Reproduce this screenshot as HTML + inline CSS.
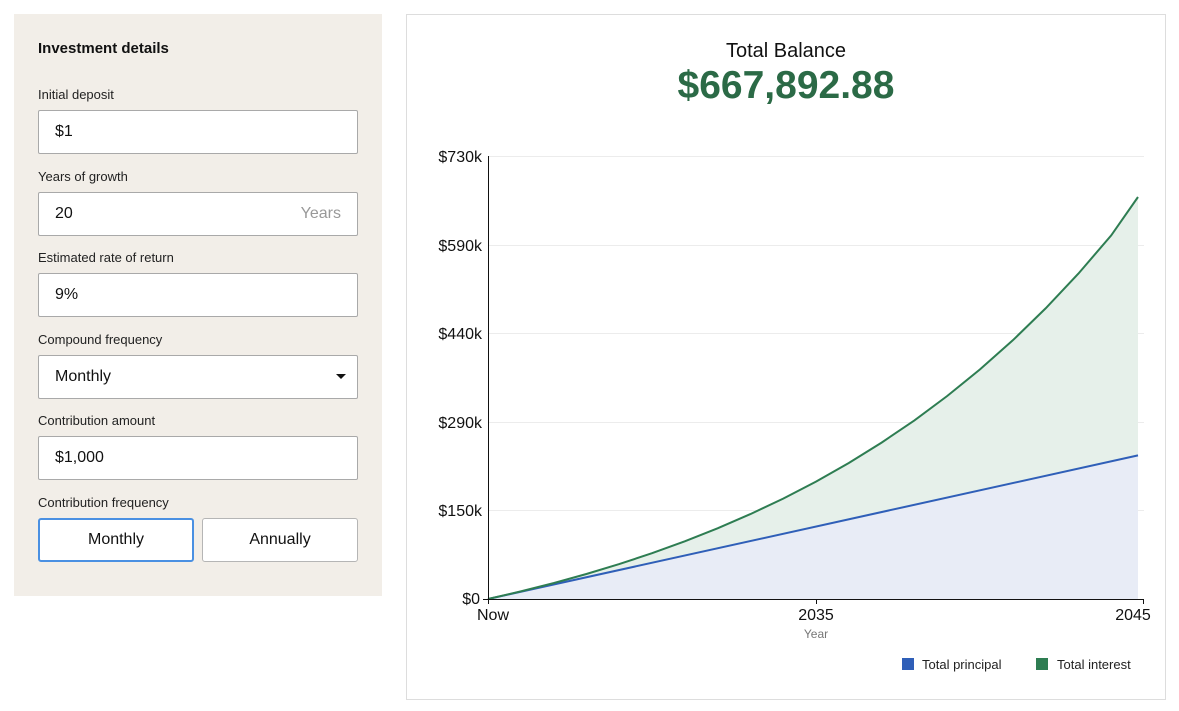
<!DOCTYPE html>
<html><head><style>
body{margin:0;width:1179px;height:711px;background:#fff;font-family:"Liberation Sans",sans-serif;position:relative;overflow:hidden;color:#111}
.a{position:absolute}
.panel{left:14px;top:14px;width:368px;height:582px;background:#f2eee8}
.lbl{left:38px;font-size:13px;color:#222}
.inp{left:38px;width:318px;height:42px;background:#fff;border:1px solid #a9a9a9;border-radius:2px;font-size:16px;line-height:42px;box-sizing:content-box}
.inp span{margin-left:16px}
.btn{top:518px;height:42px;width:154px;background:#fff;border:1px solid #b5b5b5;border-radius:3px;font-size:16px;text-align:center;line-height:42px}
</style></head><body>
<div class="a panel"></div>
<div class="a" style="left:38px;top:40px;font-size:15px;font-weight:bold">Investment details</div>
<div class="a lbl" style="top:87px">Initial deposit</div>
<div class="a inp" style="top:110px"><span>$1</span></div>
<div class="a lbl" style="top:169px">Years of growth</div>
<div class="a inp" style="top:192px"><span>20</span><span style="position:absolute;right:16px;color:#999">Years</span></div>
<div class="a lbl" style="top:250px">Estimated rate of return</div>
<div class="a inp" style="top:273px"><span>9%</span></div>
<div class="a lbl" style="top:332px">Compound frequency</div>
<div class="a inp" style="top:355px"><span>Monthly</span><span style="position:absolute;right:11px;top:18px;width:0;height:0;border-left:5px solid transparent;border-right:5px solid transparent;border-top:5px solid #111"></span></div>
<div class="a lbl" style="top:413px">Contribution amount</div>
<div class="a inp" style="top:436px"><span>$1,000</span></div>
<div class="a lbl" style="top:495px">Contribution frequency</div>
<div class="a btn" style="left:38px;border:2px solid #4a90e2;height:40px;line-height:40px;width:152px">Monthly</div>
<div class="a btn" style="left:202px">Annually</div>

<div class="a" style="left:406px;top:14px;width:758px;height:684px;border:1px solid #ddd"></div>
<div class="a" style="left:406px;width:760px;top:40px;text-align:center;font-size:20px">Total Balance</div>
<div class="a" style="left:406px;width:760px;top:64px;text-align:center;font-size:39px;font-weight:bold;color:#2b6a46">$667,892.88</div>

<svg class="a" style="left:0;top:0" width="1179" height="711">
<g stroke="#ececec" stroke-width="1">
<line x1="488" x2="1144" y1="156.5" y2="156.5"/><line x1="488" x2="1144" y1="245.5" y2="245.5"/><line x1="488" x2="1144" y1="333.5" y2="333.5"/><line x1="488" x2="1144" y1="422.5" y2="422.5"/><line x1="488" x2="1144" y1="510.5" y2="510.5"/>
</g>
<path d="M488,599 L1138,455.4 L1138,599 Z" fill="#e8ecf6"/>
<path d="M488,599 L520.8,591.4 L553.6,583.1 L586.4,574 L619.2,564.1 L652,553.2 L684.8,541.3 L717.6,528.3 L750.4,514.1 L783.2,498.6 L816,481.6 L848.8,463 L881.6,442.6 L914.4,420.4 L947.2,396 L980,369.4 L1012.8,340.3 L1045.6,308.4 L1078.4,273.6 L1111.2,235.4 L1138,197 L1138,455.4 Z" fill="#e6f0ea"/>
<path d="M488,599 L1138,455.4" stroke="#2f5fb8" stroke-width="2" fill="none"/>
<path d="M488,599 L520.8,591.4 L553.6,583.1 L586.4,574 L619.2,564.1 L652,553.2 L684.8,541.3 L717.6,528.3 L750.4,514.1 L783.2,498.6 L816,481.6 L848.8,463 L881.6,442.6 L914.4,420.4 L947.2,396 L980,369.4 L1012.8,340.3 L1045.6,308.4 L1078.4,273.6 L1111.2,235.4 L1138,197" stroke="#2e7d52" stroke-width="2" fill="none"/>
<line x1="488.5" x2="488.5" y1="156" y2="604" stroke="#111"/>
<line x1="483" x2="1144" y1="599.5" y2="599.5" stroke="#111"/>
<line x1="1143.5" x2="1143.5" y1="599" y2="604" stroke="#111"/>
<line x1="816.5" x2="816.5" y1="599" y2="604" stroke="#111"/>
<g font-size="16" text-anchor="end" fill="#111" font-family="Liberation Sans">
<text x="482" y="162">$730k</text><text x="482" y="251">$590k</text><text x="482" y="339">$440k</text><text x="482" y="428">$290k</text><text x="482" y="516">$150k</text><text x="480" y="604">$0</text>
</g>
<g font-size="16" text-anchor="middle" fill="#111" font-family="Liberation Sans">
<text x="493" y="620">Now</text><text x="816" y="620">2035</text><text x="1133" y="620">2045</text>
</g>
<text x="816" y="638" font-size="12" fill="#777" text-anchor="middle" font-family="Liberation Sans">Year</text>
<rect x="902" y="658" width="12" height="12" fill="#2f5fb8"/>
<text x="922" y="669" font-size="13" fill="#222" font-family="Liberation Sans">Total principal</text>
<rect x="1036" y="658" width="12" height="12" fill="#2e7d52"/>
<text x="1057" y="669" font-size="13" fill="#222" font-family="Liberation Sans">Total interest</text>
</svg>
</body></html>
